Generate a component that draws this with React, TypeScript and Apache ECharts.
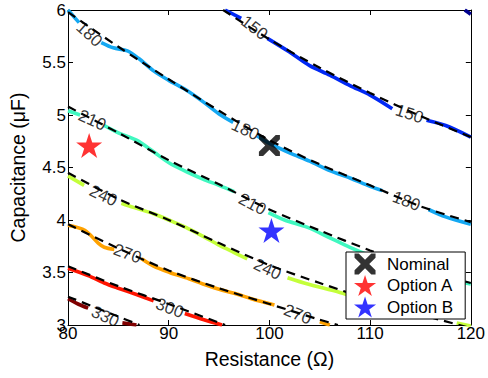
import React, { useEffect, useRef } from "react";
import * as echarts from "echarts";

// Axis ticks
const xTicks = [80, 90, 100, 110, 120];
const yTicks = [3, 3.5, 4, 4.5, 5, 5.5, 6];

// Contour levels and their jet-style colours
const levels = [120, 150, 180, 210, 240, 270, 300, 330];
const levelColors = ["#00008F", "#0028F5", "#14A8F2", "#40F8C0", "#C4FF3A", "#FFA200", "#FF1400", "#800000"];

// Coloured contour segments (gaps where the labels sit)
const contour120 = [[[119.4, 6.0], [120, 5.96]]];
const contour150 = [
  [[95.6, 6.0], [97.2, 5.92]],
  [[99.8, 5.73], [102, 5.6], [104, 5.47], [106, 5.38], [108, 5.28], [110, 5.19], [112.2, 5.06]],
  [[115.6, 4.95], [117.5, 4.9], [120, 4.79]],
];
const contour180 = [
  [[80, 6.0], [81.1, 5.88]],
  [[83.3, 5.69], [84.5, 5.64], [85.9, 5.61], [87, 5.54], [88.5, 5.42], [90, 5.33], [91.7, 5.24], [93.5, 5.12], [95, 5.01], [96.4, 4.93]],
  [[98.8, 4.8], [100, 4.73], [102, 4.64], [104, 4.56], [106, 4.47], [108, 4.4], [110, 4.32], [111.2, 4.28]],
  [[115.8, 4.1], [117.5, 4.03], [120, 3.96]],
];
const contour210 = [
  [[80, 5.04], [81.2, 5.0]],
  [[83.6, 4.9], [85, 4.83], [86.8, 4.76], [88.5, 4.65], [90.1, 4.54], [92, 4.45], [93.4, 4.39], [95, 4.33], [96.5, 4.27]],
  [[99.9, 4.07], [101.5, 4.0], [103.8, 3.93], [106, 3.83], [108, 3.74], [110, 3.66], [112, 3.59], [114, 3.53], [116, 3.48], [118, 3.43], [120, 3.39]],
];
const contour240 = [
  [[80, 4.42], [81.6, 4.33]],
  [[85.3, 4.16], [86.5, 4.12], [88.5, 4.06], [90, 4.0], [91.7, 3.93], [93.5, 3.84], [95, 3.76], [96.5, 3.69], [97.8, 3.63]],
  [[101.8, 3.45], [103.8, 3.39], [107, 3.31], [110, 3.22], [113, 3.14], [115, 3.09]],
  [[118.6, 3.02], [120, 2.99]],
];
const contour270 = [
  [[80, 3.95], [81.7, 3.9], [83, 3.78], [83.6, 3.74], [84.6, 3.72]],
  [[87.3, 3.63], [88.5, 3.56], [90.1, 3.5], [92, 3.44], [93.4, 3.39], [95, 3.34], [96.6, 3.3], [98.2, 3.25], [100.5, 3.19]],
  [[105, 3.03], [106, 3.0]],
];
const contour300 = [
  [[80, 3.54], [82, 3.47], [83.6, 3.4], [85, 3.35], [86.8, 3.29], [88.5, 3.23]],
  [[91.6, 3.11], [93.5, 3.05], [95.3, 3.0]],
];
const contour330 = [
  [[80, 3.25], [81, 3.2], [82, 3.16]],
  [[85.4, 3.02], [86.8, 3.0]],
];
const contours = [contour120, contour150, contour180, contour210, contour240, contour270, contour300, contour330];

// Black dash-dot reference contours
const dashed150 = [[95.4, 6.0], [100, 5.72], [105, 5.45], [110, 5.21], [115, 4.99], [120, 4.79]];
const dashed180 = [[80, 5.98], [85, 5.65], [90, 5.34], [95, 5.04], [100, 4.76], [105, 4.53], [110, 4.33], [115, 4.13], [120, 3.98]];
const dashed210 = [[80, 5.08], [85, 4.83], [90, 4.57], [95, 4.34], [100, 4.1], [105, 3.9], [110, 3.71], [115, 3.54], [120, 3.4]];
const dashed240 = [[80, 4.45], [85, 4.2], [90, 4.0], [95, 3.78], [100, 3.57], [105, 3.4], [110, 3.24], [115, 3.1], [120, 2.97]];
const dashed270 = [[80, 3.96], [85, 3.73], [90, 3.52], [95, 3.35], [100, 3.2], [105, 3.05], [106.8, 3.0]];
const dashed300 = [[80, 3.56], [85, 3.37], [90, 3.2], [95.6, 3.0]];
const dashed330 = [[80, 3.27], [85, 3.08], [87.1, 3.0]];
const dashedLines = [dashed150, dashed180, dashed210, dashed240, dashed270, dashed300, dashed330];

// Contour labels: text, x, y, rotation (deg)
const contourLabels: [string, number, number, number][] = [
  ["150", 98.5, 5.83, -38],
  ["150", 113.9, 5.01, -18],
  ["180", 82.1, 5.77, -42],
  ["180", 97.6, 4.86, -25],
  ["180", 113.6, 4.18, -21],
  ["210", 82.4, 4.95, -24],
  ["210", 98.3, 4.15, -28],
  ["240", 83.5, 4.23, -25],
  ["240", 99.8, 3.53, -25],
  ["270", 85.9, 3.68, -20],
  ["270", 102.8, 3.1, -22],
  ["300", 90.1, 3.16, -21],
  ["330", 83.7, 3.08, -24],
];

// Markers
const nominal = [[100, 4.71]];
const optionA = [[82.1, 4.71]];
const optionB = [[100.2, 3.9]];

const FONT = "'Liberation Sans', Arial, Helvetica, sans-serif";
const xPath =
  "path://M0,0 L4,0 L10,6 L16,0 L20,0 L20,4 L14,10 L20,16 L20,20 L16,20 L10,14 L4,20 L0,20 L0,16 L6,10 L0,4 Z";
const starPath =
  "path://M10,0 L12.25,6.91 L19.51,6.91 L13.63,11.18 L15.88,18.09 L10,13.82 L4.12,18.09 L6.37,11.18 L0.49,6.91 L7.75,6.91 Z";

export default function App() {
  const ref = useRef<HTMLDivElement>(null);
  useEffect(() => {
    if (!ref.current) return;
    const chart = echarts.init(ref.current, null, { renderer: "svg" });
    const series: any[] = [];
    contours.forEach((segs, i) => {
      segs.forEach((seg) => {
        series.push({
          type: "line",
          data: seg,
          smooth: 0.3,
          showSymbol: false,
          symbol: "none",
          silent: true,
          z: 2,
          lineStyle: { color: levelColors[i], width: 3.6 },
        });
      });
    });
    dashedLines.forEach((d) => {
      series.push({
        type: "line",
        data: d,
        smooth: 0.3,
        showSymbol: false,
        symbol: "none",
        silent: true,
        z: 3,
        lineStyle: { color: "#000", width: 2.2, type: [9, 6] },
      });
    });
    series.push({
      type: "scatter",
      data: contourLabels.map(([t, x, y, r]) => ({
        value: [x, y],
        label: { formatter: t, rotate: r },
      })),
      symbolSize: 1,
      itemStyle: { color: "rgba(0,0,0,0)" },
      silent: true,
      z: 4,
      label: {
        show: true,
        position: "inside",
        color: "#000",
        fontSize: 17,
        fontFamily: FONT,
      },
    });
    series.push({
      name: "Nominal",
      type: "scatter",
      data: nominal,
      symbol: xPath,
      symbolSize: [21, 21],
      itemStyle: { color: "#000" },
      z: 5,
    });
    series.push({
      name: "Option A",
      type: "scatter",
      data: optionA,
      symbol: starPath,
      symbolSize: [26, 25],
      itemStyle: { color: "#FF0000" },
      z: 5,
    });
    series.push({
      name: "Option B",
      type: "scatter",
      data: optionB,
      symbol: starPath,
      symbolSize: [26, 25],
      itemStyle: { color: "#0000FF" },
      z: 5,
    });

    const axisCommon = {
      type: "value",
      axisLine: { show: true, lineStyle: { color: "#000", width: 1 } },
      axisTick: { show: true, inside: true, length: 5, lineStyle: { color: "#000" } },
      splitLine: { show: false },
    };

    chart.setOption({
      animation: false,
      grid: { left: 63, right: 15, top: 10, bottom: 53 },
      legend: {
        data: [
          { name: "Nominal", icon: xPath },
          { name: "Option A", icon: starPath },
          { name: "Option B", icon: starPath },
        ],
        orient: "vertical",
        left: 346,
        top: 252,
        padding: [1.5, 12, 1.5, 8],
        itemWidth: 34,
        itemHeight: 21,
        itemGap: 0.5,
        borderColor: "#000",
        borderWidth: 1,
        backgroundColor: "#fff",
        borderRadius: 0,
        z: 10,
        textStyle: { fontSize: 17, color: "#000", fontFamily: FONT },
        selectedMode: false,
      },
      xAxis: [
        {
          ...axisCommon,
          min: 80,
          max: 120,
          interval: 10,
          position: "bottom",
          name: "Resistance (Ω)",
          nameLocation: "middle",
          nameGap: 24,
          nameTextStyle: { fontSize: 19.5, color: "#000", fontFamily: FONT },
          axisLabel: {
            color: "#000",
            fontSize: 17,
            fontFamily: FONT,
            margin: 0,
            formatter: (v: number) => (xTicks.includes(v) ? String(v) : ""),
          },
        },
        {
          ...axisCommon,
          min: 80,
          max: 120,
          interval: 10,
          position: "top",
          axisLabel: { show: false },
        },
      ],
      yAxis: [
        {
          ...axisCommon,
          min: 3,
          max: 6,
          interval: 0.5,
          position: "left",
          name: "Capacitance (μF)",
          nameLocation: "middle",
          nameGap: 40,
          nameTextStyle: { fontSize: 19.5, color: "#000", fontFamily: FONT },
          axisLabel: {
            color: "#000",
            fontSize: 17,
            fontFamily: FONT,
            margin: 2,
            formatter: (v: number) => (yTicks.includes(v) ? String(v) : ""),
          },
        },
        {
          ...axisCommon,
          min: 3,
          max: 6,
          interval: 0.5,
          position: "right",
          axisLabel: { show: false },
        },
      ],
      series,
    });
    return () => chart.dispose();
  }, []);
  return <div ref={ref} style={{ width: 488, height: 378, position: "absolute", left: 0, top: 0 }} />;
}
